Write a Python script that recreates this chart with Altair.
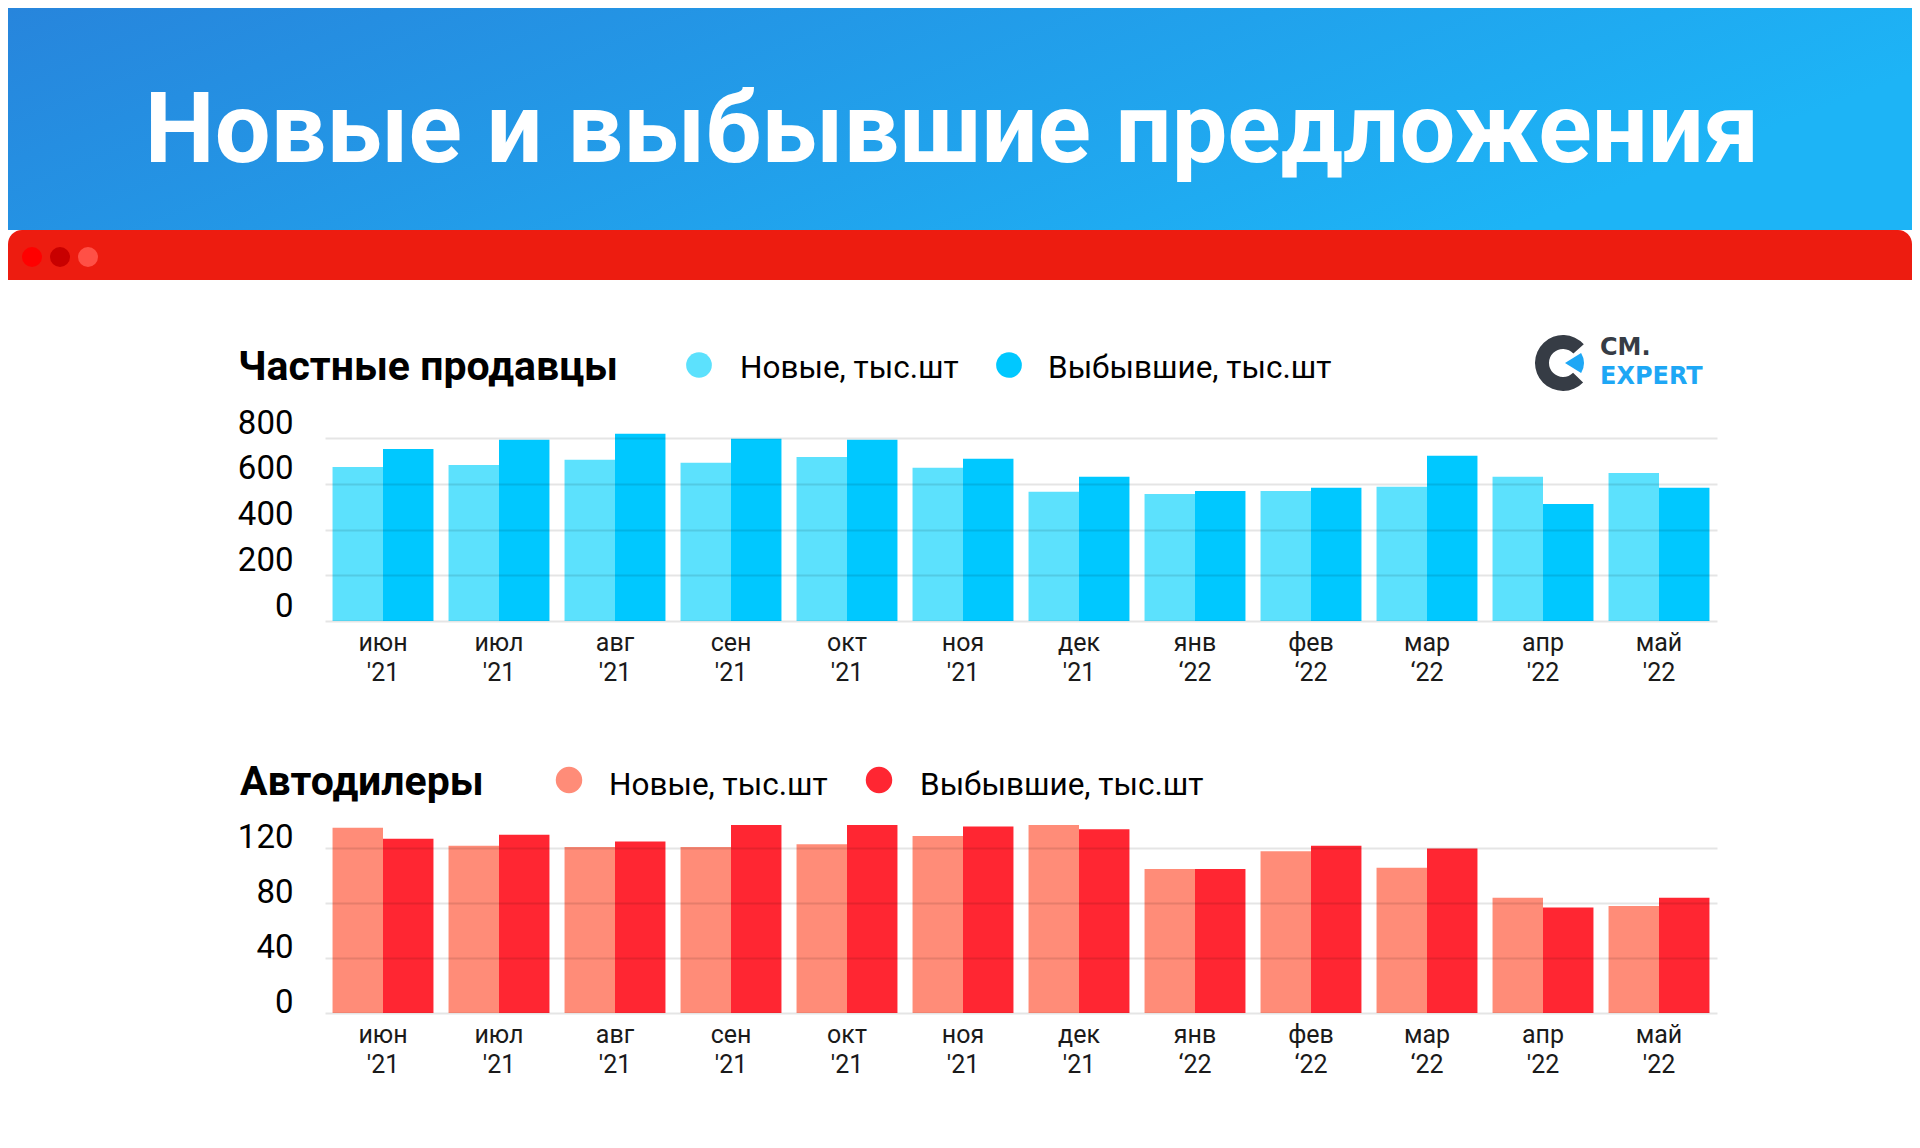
import altair as alt
import pandas as pd

# ---- data ----
months = ["июн", "июл", "авг", "сен", "окт", "ноя", "дек", "янв", "фев", "мар", "апр", "май"]
years = ["'21", "'21", "'21", "'21", "'21", "'21", "'21", "‘22", "‘22", "‘22", "'22", "'22"]
series = ["Новые, тыс.шт", "Выбывшие, тыс.шт"]

private_new = [674, 683, 705, 692, 718, 670, 565, 556, 569, 587, 631, 648]
private_gone = [753, 793, 819, 797, 793, 710, 631, 569, 583, 723, 512, 583]

dealer_new = [135, 122, 121, 121, 123, 129, 137, 105, 118, 106, 84, 78]
dealer_gone = [127, 130, 125, 137, 137, 136, 134, 105, 122, 120, 77, 84]

private_ticks = [0, 200, 400, 600, 800]
dealer_ticks = [0, 40, 80, 120]

main_title = "Новые и выбывшие предложения"
title_private = "Частные продавцы"
title_dealer = "Автодилеры"

labels = [m + "|" + y for m, y in zip(months, years)]

FONT = "Roboto"


def frame(new_vals, gone_vals):
    rows = []
    for lab, n, g in zip(labels, new_vals, gone_vals):
        rows.append({"month": lab, "series": series[0], "value": n})
        rows.append({"month": lab, "series": series[1], "value": g})
    return pd.DataFrame(rows)


one = pd.DataFrame({"k": [0]})


def bars(df, colors, domain_max, ticks, yoff):
    return alt.Chart(df).mark_bar().encode(
        x=alt.X("month:N", sort=labels,
                scale=alt.Scale(paddingInner=0.13, paddingOuter=0.065),
                axis=alt.Axis(title=None, labelAngle=0, domain=False, ticks=False,
                              labelExpr="split(datum.label, '|')",
                              labelFont=FONT, labelFontSize=25, labelLineHeight=30,
                              labelPadding=9, labelColor="#1a1a1a")),
        xOffset=alt.XOffset("series:N", sort=series, scale=alt.Scale(paddingInner=0, paddingOuter=0)),
        y=alt.Y("value:Q", scale=alt.Scale(domain=[0, domain_max], nice=False),
                axis=alt.Axis(title=None, values=ticks, domain=False, ticks=False,
                              grid=True, gridColor="#000000", gridOpacity=0.1, gridWidth=2,
                              labelFont=FONT, labelFontSize=33, labelColor="#000000",
                              labelPadding=32, labelBaseline="alphabetic", labelOffset=yoff,
                              zindex=1)),
        color=alt.Color("series:N", sort=series,
                        scale=alt.Scale(domain=series, range=colors), legend=None),
    )


def text(t, x, y, size, color="#000000", weight="normal", align="left", font=FONT):
    return alt.Chart(one).mark_text(
        text=t, align=align, baseline="alphabetic", fontSize=size, color=color,
        font=font, fontWeight=weight).encode(x=alt.value(x), y=alt.value(y))


def dot(x, y, size, color):
    return alt.Chart(one).mark_point(filled=True, size=size, color=color, opacity=1,
                                     strokeWidth=0).encode(x=alt.value(x), y=alt.value(y))


top_colors = ["#5ce1fd", "#00c8ff"]
bot_colors = ["#ff8c78", "#ff2632"]

# ---- header decorations (relative to top plot area origin) ----
grad = alt.LinearGradient(gradient="linear",
                          stops=[alt.GradientStop(color="#2785dc", offset=0),
                                 alt.GradientStop(color="#1db4f6", offset=1)],
                          x1=0, x2=1, y1=0, y2=0.3)
header = alt.Chart(one).mark_rect(fill=grad).encode(
    x=alt.value(-317), x2=alt.value(1587), y=alt.value(-421), y2=alt.value(-199))
redbar = alt.Chart(one).mark_rect(color="#ed1c10", cornerRadiusTopLeft=14,
                                  cornerRadiusTopRight=14).encode(
    x=alt.value(-317), x2=alt.value(1587), y=alt.value(-199), y2=alt.value(-149))

ring = alt.Chart(one).mark_arc(color="#363c45", outerRadius=28, innerRadius=14,
                               theta=2.34, theta2=7.12).encode(
    x=alt.value(1238), y=alt.value(-66))
wedge = alt.Chart(one).mark_arc(color="#1ea7f5", outerRadius=19, innerRadius=0,
                                theta=1.01, theta2=2.13).encode(
    x=alt.value(1240), y=alt.value(-66))

top = alt.layer(
    header, redbar,
    dot(-293, -172, 400, "#ff0000"), dot(-265, -172, 400, "#c80000"), dot(-237, -172, 400, "#ff5046"),
    text(main_title, 627, -267, 99, color="#ffffff", weight="bold", align="center"),
    text(title_private, -87, -49, 41, weight="bold"),
    dot(374, -64, 660, top_colors[0]), dot(684, -64, 660, top_colors[1]),
    text(series[0], 415, -51, 31.5), text(series[1], 723, -51, 31.5),
    ring, wedge,
    text("CM.", 1275, -74, 24, color="#363c45", weight="bold", font="DejaVu Sans"),
    text("EXPERT", 1275, -45, 24, color="#1ea7f5", weight="bold", font="DejaVu Sans"),
    bars(frame(private_new, private_gone), top_colors, 840, private_ticks, -5),
).properties(width=1392, height=192)

bottom = alt.layer(
    text(title_dealer, -85, -26, 41, weight="bold"),
    dot(244, -41, 700, bot_colors[0]), dot(554, -41, 700, bot_colors[1]),
    text(series[0], 284, -26, 31.5), text(series[1], 595, -26, 31.5),
    bars(frame(dealer_new, dealer_gone), bot_colors, 140, dealer_ticks, -1),
).properties(width=1392, height=192)

chart = alt.vconcat(top, bottom, spacing=200, bounds="flush").resolve_scale(
    color="independent"
).properties(
    padding=0, background="#ffffff"
).configure_view(stroke=None)

chart.save("out.html", embed_options={"renderer": "svg", "actions": False})
